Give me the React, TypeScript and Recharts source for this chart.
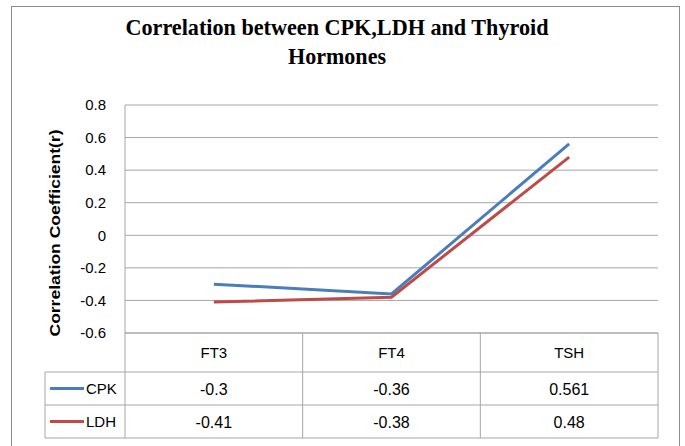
import { LineChart, Line, XAxis, YAxis, CartesianGrid } from 'recharts';

const categories = ['FT3', 'FT4', 'TSH'];
const cpkValues = [-0.3, -0.36, 0.561];
const ldhValues = [-0.41, -0.38, 0.48];
const yTicks = [-0.6, -0.4, -0.2, 0, 0.2, 0.4, 0.6, 0.8];
const seriesNames = ['CPK', 'LDH'];

const data = categories.map((name, i) => ({ name, CPK: cpkValues[i], LDH: ldhValues[i] }));

const W = 685;
const H = 446;
const PLOT_L = 125;
const PLOT_R = 658;
const PLOT_T = 105;
const PLOT_B = 333;
const TABLE_L = 45;
const ROW_LINES = [372, 405, 438];
const HALF_BAND = (PLOT_R - PLOT_L) / categories.length / 2;

const GRID = '#a6a6a6';
const BLUE = '#4a7ebb';
const RED = '#be4b48';
const FONT = '"Liberation Sans", Arial, sans-serif';
const SERIF = '"Liberation Serif", "Times New Roman", serif';

const seriesColors = [BLUE, RED];
const seriesValues = [cpkValues, ldhValues];

// draws the data table under the plot, one column per category tick
function TableTick(props: any) {
  const { x, index, payload } = props;
  const rowMid = [
    (PLOT_B + ROW_LINES[0]) / 2,
    (ROW_LINES[0] + ROW_LINES[1]) / 2,
    (ROW_LINES[1] + ROW_LINES[2]) / 2,
  ];
  return (
    <g>
      {index === 0 && (
        <g>
          <line x1={x - HALF_BAND} x2={x - HALF_BAND} y1={PLOT_B} y2={ROW_LINES[2]} stroke={GRID} />
          <line x1={TABLE_L} x2={TABLE_L} y1={ROW_LINES[0]} y2={ROW_LINES[2]} stroke={GRID} />
          {ROW_LINES.map((y) => (
            <line key={y} x1={TABLE_L} x2={PLOT_R} y1={y} y2={y} stroke={GRID} />
          ))}
          {seriesNames.map((s, i) => (
            <g key={s}>
              <line x1={50} x2={84} y1={rowMid[i + 1]} y2={rowMid[i + 1]} stroke={seriesColors[i]} strokeWidth={3} />
              <text x={86} y={rowMid[i + 1] + 5} fontSize={15} fontFamily={FONT} fill="#000">
                {s}
              </text>
            </g>
          ))}
        </g>
      )}
      <line x1={x + HALF_BAND} x2={x + HALF_BAND} y1={PLOT_B} y2={ROW_LINES[2]} stroke={GRID} />
      <text x={x} y={rowMid[0] + 5} textAnchor="middle" fontSize={15} fontFamily={FONT} fill="#000">
        {payload.value}
      </text>
      {seriesValues.map((vals, i) => (
        <text key={i} x={x} y={rowMid[i + 1] + 6} textAnchor="middle" fontSize={16} fontFamily={FONT} fill="#000">
          {String(vals[index])}
        </text>
      ))}
    </g>
  );
}

function YLabel() {
  const cx = 54;
  const cy = 233;
  return (
    <text
      x={cx}
      y={cy}
      transform={`rotate(-90 ${cx} ${cy})`}
      textAnchor="middle"
      dominantBaseline="central"
      fontSize={15}
      fontWeight="bold"
      fontFamily={FONT}
      fill="#000"
      textLength={207}
      lengthAdjust="spacingAndGlyphs"
    >
      Correlation Coefficient(r)
    </text>
  );
}

export default function App() {
  return (
    <div style={{ position: 'absolute', left: 0, top: 0, width: W, height: H, background: '#fff' }}>
      <LineChart
        width={W}
        height={H}
        data={data}
        margin={{ top: PLOT_T, left: PLOT_L - 60, right: W - PLOT_R, bottom: 13 }}
      >
        <CartesianGrid vertical={false} stroke={GRID} />
        <XAxis
          dataKey="name"
          scale="band"
          interval={0}
          height={H - PLOT_B - 13}
          tickLine={false}
          axisLine={{ stroke: GRID }}
          tick={<TableTick />}
        />
        <YAxis
          width={60}
          domain={[-0.6, 0.8]}
          ticks={yTicks}
          tickLine={false}
          tickSize={0}
          tickMargin={19}
          axisLine={{ stroke: GRID }}
          tick={{ fontSize: 15, fontFamily: FONT, fill: '#000' }}
          tickFormatter={(v: number) => String(v)}
          label={YLabel}
        />
        <Line dataKey="CPK" stroke={BLUE} strokeWidth={3} dot={false} isAnimationActive={false} />
        <Line dataKey="LDH" stroke={RED} strokeWidth={3} dot={false} isAnimationActive={false} />
      </LineChart>
      <svg width={W} height={H} style={{ position: 'absolute', left: 0, top: 0, pointerEvents: 'none' }}>
        <rect x={11.5} y={6.5} width={668} height={470} fill="none" stroke="#8c8c8c" />
        <text x={337} y={35} textAnchor="middle" fontSize={24} fontWeight="bold" fontFamily={SERIF} fill="#000" textLength={423} lengthAdjust="spacingAndGlyphs">
          Correlation between CPK,LDH and Thyroid
        </text>
        <text x={337} y={64} textAnchor="middle" fontSize={24} fontWeight="bold" fontFamily={SERIF} fill="#000" textLength={98} lengthAdjust="spacingAndGlyphs">
          Hormones
        </text>
      </svg>
    </div>
  );
}
